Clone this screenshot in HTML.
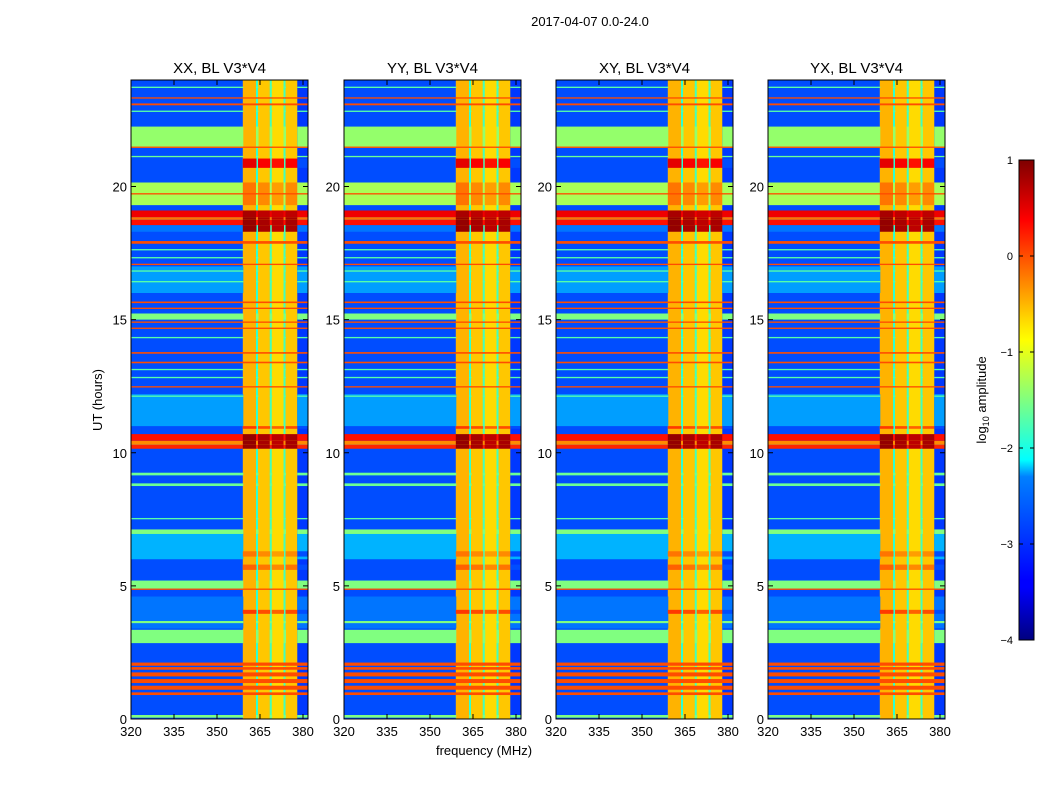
<!DOCTYPE html>
<html><head><meta charset="utf-8">
<style>
body{margin:0;background:#fff;font-family:"Liberation Sans",sans-serif;}
svg text{font-family:"Liberation Sans",sans-serif;}
</style></head>
<body>
<svg id="fig" width="1050" height="800" xmlns="http://www.w3.org/2000/svg">
<defs>
<linearGradient id="jet" x1="0" y1="1" x2="0" y2="0">
<stop offset="0" stop-color="#00007f"/><stop offset="0.11" stop-color="#0000ff"/>
<stop offset="0.125" stop-color="#0000ff"/><stop offset="0.34" stop-color="#0080ff"/>
<stop offset="0.375" stop-color="#00ffff"/><stop offset="0.5" stop-color="#80ff80"/>
<stop offset="0.625" stop-color="#ffff00"/><stop offset="0.66" stop-color="#ffe000"/>
<stop offset="0.875" stop-color="#ff0000"/><stop offset="1" stop-color="#7f0000"/>
</linearGradient>
</defs>
<text x="590" y="26" font-size="13" text-anchor="middle">2017-04-07 0.0-24.0</text>
<text transform="translate(102,400) rotate(-90)" font-size="13" text-anchor="middle">UT (hours)</text>
<text x="484" y="755" font-size="13" text-anchor="middle">frequency (MHz)</text>
<g id="panels"></g>
<g>
<rect x="1019" y="160" width="15" height="480" fill="url(#jet)" stroke="#000" stroke-width="1"/>
<g id="cbticks"></g>
<text transform="translate(986,400) rotate(-90)" font-size="13" text-anchor="middle">log<tspan font-size="9" dy="3">10</tspan><tspan dy="-3"> amplitude</tspan></text>
</g>
</svg>
<script>
// frequency column segments (MHz) and their base log10 amplitude
const colStart=[320,359,363.6,364.3,368.4,369.1,373.2,373.9,378];
const colEnd  =[359,363.6,364.3,368.4,369.1,373.2,373.9,378,382];
const colLevel=[-3.0,-0.5,-1.9,-0.6,-1.8,-0.7,-1.8,-0.6,-3.1];
const colIsRfi=[0,1,0,1,0,1,0,1,0];
// time bands (hours), quiet-band level, RFI boost
const bandStart=[11.0,16.0,6.0,3.4,0.05,0.9,1.1,1.35,1.6,1.85,2.0,2.85,3.6,4.85,4.9,3.95,5.6,6.1,6.95,7.5,8.75,9.15,10.15,10.3,10.45,10.9,12.1,12.45,12.8,13.1,13.36,13.72,14.3,14.65,14.88,15.0,15.4,15.62,16.4,16.8,17.05,17.3,17.6,17.85,18.3,18.55,18.75,18.85,19.3,19.7,20.7,21.1,21.45,21.45,22.8,23.05,23.3,23.7];
const bandEnd  =[12.2,17.0,7.0,4.6,0.15,1.0,1.25,1.5,1.75,1.95,2.12,3.35,3.68,4.9,5.2,4.1,5.8,6.3,7.12,7.55,8.85,9.25,10.3,10.45,10.7,11.0,12.15,12.5,12.85,13.15,13.42,13.78,14.35,14.7,14.93,15.23,15.45,15.68,16.45,16.85,17.1,17.35,17.65,17.95,18.55,18.75,18.85,19.1,20.15,19.75,21.05,21.15,22.25,21.5,22.85,23.12,23.35,23.75];
const bandLevel=[-2.6,-2.6,-2.5,-2.8,-1.5,0,0,0,0,0,0,-1.5,-1.5,0,-1.5,-3.0,-3.0,-3.0,-1.5,-1.7,-1.6,-1.6,0.2,-0.3,0.3,-3.0,-1.7,0,-1.7,-1.7,0,0,-1.7,0,0,-1.5,0,0,-1.7,-1.7,0,-1.7,-1.7,0,-2.8,0.3,-0.2,0.45,-1.3,0,-3.0,-1.6,-1.4,0,-1.7,0,0,-1.7];
const bandBoost=[0,0,0,0,0,0.4,0.4,0.4,0.4,0.4,0.4,0,0,0,0,0.6,0.4,0.3,0,0,0,0,1.4,1.4,1.4,0.6,0,0,0,0,0,0,0,0,0,0,0,0,0,0,0,0,0,0.3,1.4,1.4,1.4,1.3,0.3,0.3,1.0,0,0,0.5,0,0,0,0];
const xTicks=[320,335,350,365,380];
const yTicks=[0,5,10,15,20];
const cbTicks=[1,0,-1,-2,-3,-4];
const panelTitles=["XX, BL V3*V4","YY, BL V3*V4","XY, BL V3*V4","YX, BL V3*V4"];
const panelX=[131,344,556,768];
const NS="http://www.w3.org/2000/svg";
const PW=177,PT=80,PB=719,FMIN=320,FPX=43/15,HPX=(PB-PT)/24;
function jet(v){let t=Math.max(0,Math.min(1,(v+4)/5));
 const c=x=>Math.round(255*Math.max(0,Math.min(1,x)));
 return `rgb(${c(1.5-Math.abs(4*t-3))},${c(1.5-Math.abs(4*t-2))},${c(1.5-Math.abs(4*t-1))})`;}
function mk(tag,attrs,parent){const e=document.createElementNS(NS,tag);for(const k in attrs)e.setAttribute(k,attrs[k]);parent.appendChild(e);return e;}
const root=document.getElementById('panels');
panelX.forEach((x0,p)=>{
 const xs=f=>x0+(f-FMIN)*FPX, ys=h=>PB-h*HPX;
 const g=mk('g',{},root);
 
 
 const cp=mk('clipPath',{id:'cp'+p},g);mk('rect',{x:x0,y:PT,width:PW,height:PB-PT},cp);
 const hm=mk('g',{'clip-path':`url(#cp${p})`},g);
 
 
 for(let c=0;c<colStart.length;c++){
  const r=mk('rect',{x:xs(colStart[c]),y:ys(24),width:xs(colEnd[c])-xs(colStart[c])+0.5,height:ys(0)-ys(24),fill:jet(colLevel[c])},hm);
  
  
 }
 for(let b=0;b<bandStart.length;b++){
  for(let c=0;c<colStart.length;c++){
   let v=colIsRfi[c]?Math.max(bandLevel[b],colLevel[c]+bandBoost[b]):Math.max(bandLevel[b],colLevel[c]);
   if(!colIsRfi[c]&&bandLevel[b]<=colLevel[c])continue;
   if(colIsRfi[c]&&v<=colLevel[c])continue;
   const r=mk('rect',{x:xs(colStart[c]),y:ys(bandEnd[b]),width:xs(colEnd[c])-xs(colStart[c])+0.5,height:Math.max(1,ys(bandStart[b])-ys(bandEnd[b])),fill:jet(v)},hm);
   
   
  }
 }
 const fr=mk('rect',{x:x0,y:PT,width:PW,height:PB-PT,fill:'none',stroke:'#000','stroke-width':1},g);
 
 
 const t=mk('text',{x:x0+PW/2,y:73,'font-size':15,'text-anchor':'middle'},g);t.textContent=panelTitles[p];
 
 
 xTicks.forEach(f=>{const x=xs(f);
  mk('line',{x1:x,x2:x,y1:PB,y2:PB-5,stroke:'#000'},g);mk('line',{x1:x,x2:x,y1:PT,y2:PT+5,stroke:'#000'},g);
  const l=mk('text',{x:x,y:PB+17,'font-size':13,'text-anchor':'middle'},g);l.textContent=f;
  
  });
 yTicks.forEach(h=>{const y=ys(h);
  mk('line',{x1:x0,x2:x0+5,y1:y,y2:y,stroke:'#000'},g);mk('line',{x1:x0+PW,x2:x0+PW-5,y1:y,y2:y,stroke:'#000'},g);
  const l=mk('text',{x:x0-4,y:y+5,'font-size':13,'text-anchor':'end'},g);l.textContent=h;
  
  });
});
const cb=document.getElementById('cbticks');
cbTicks.forEach(v=>{const y=160+(1-v)*96;
 mk('line',{x1:1019,x2:1023,y1:y,y2:y,stroke:'#000'},cb);mk('line',{x1:1034,x2:1030,y1:y,y2:y,stroke:'#000'},cb);
 const l=mk('text',{x:1013,y:y+4,'font-size':11,'text-anchor':'end'},cb);l.textContent=v<0?'\u2212'+(-v):v;
 
 });
</script>
</body></html>
